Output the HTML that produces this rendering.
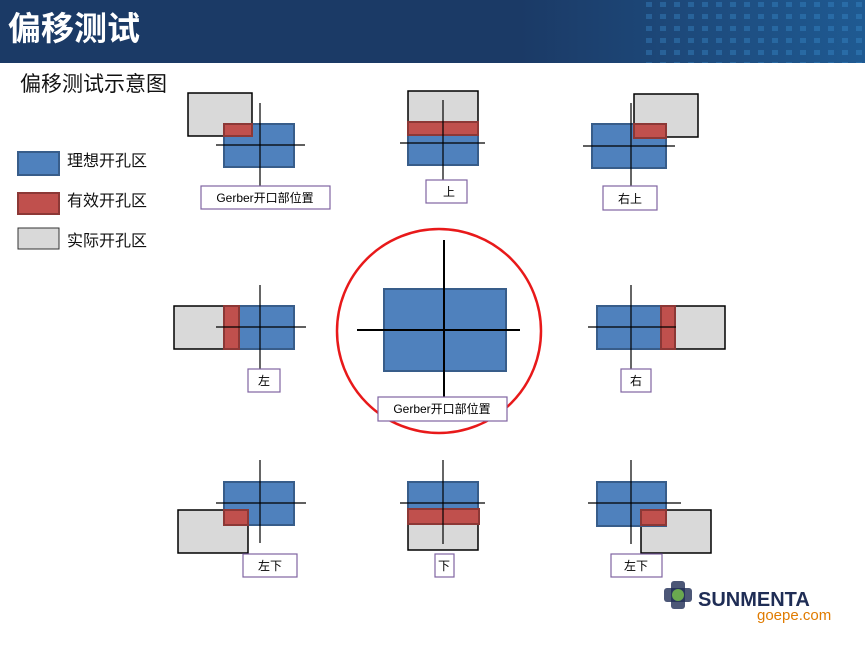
<!DOCTYPE html>
<html><head><meta charset="utf-8"><style>
body{margin:0;width:865px;height:646px;overflow:hidden;background:#fff;font-family:"Liberation Sans","Noto Sans CJK SC",sans-serif}
</style></head><body>
<svg width="865" height="646" xmlns="http://www.w3.org/2000/svg" style="position:absolute;left:0;top:0">
<defs><linearGradient id="hg" x1="0" x2="1"><stop offset="0.6" stop-color="#1b3a66"/><stop offset="1" stop-color="#1f5a92"/></linearGradient>
<pattern id="dots" width="14" height="12" patternUnits="userSpaceOnUse"><rect x="2" y="2" width="6" height="5" fill="#3a8fd0" opacity="0.6"/></pattern></defs>
<rect x="0" y="0" width="865" height="63" fill="url(#hg)"/>
<rect x="640" y="0" width="225" height="63" fill="url(#dots)" opacity="0.6"/>
<text x="8" y="40" font-size="33" font-weight="bold" fill="#fff" font-family="Liberation Sans,Noto Sans CJK SC,sans-serif">偏移测试</text>
<text x="20" y="91" font-size="21" fill="#111" font-family="Liberation Sans,Noto Sans CJK SC,sans-serif">偏移测试示意图</text>
<g font-family="Liberation Sans,Noto Sans CJK SC,sans-serif" font-size="16" fill="#111">
<rect x="18" y="152" width="41" height="23" fill="#4f81bd" stroke="#385d8a" stroke-width="2"/><text x="67" y="166">理想开孔区</text>
<rect x="18" y="193" width="41" height="21" fill="#c0504d" stroke="#8c3836" stroke-width="2"/><text x="67" y="206">有效开孔区</text>
<rect x="18" y="228" width="41" height="21" fill="#d9d9d9" stroke="#333" stroke-width="1"/><text x="67" y="246">实际开孔区</text>
</g>
<g stroke-width="1.5">
<rect x="188" y="93" width="64" height="43" fill="#d9d9d9" stroke="#000"/>
<rect x="224" y="124" width="70" height="43" fill="#4f81bd" stroke="#385d8a" stroke-width="2"/>
<rect x="224" y="124" width="28" height="12" fill="#c0504d" stroke="#8c3836" stroke-width="2"/>
<rect x="408" y="91" width="70" height="31" fill="#d9d9d9" stroke="#000"/>
<rect x="408" y="135" width="70" height="30" fill="#4f81bd" stroke="#385d8a" stroke-width="2"/>
<rect x="408" y="122" width="70" height="13" fill="#c0504d" stroke="#8c3836" stroke-width="2"/>
<rect x="634" y="94" width="64" height="43" fill="#d9d9d9" stroke="#000"/>
<rect x="592" y="124" width="74" height="44" fill="#4f81bd" stroke="#385d8a" stroke-width="2"/>
<rect x="634" y="124" width="32" height="14" fill="#c0504d" stroke="#8c3836" stroke-width="2"/>
<rect x="174" y="306" width="65" height="43" fill="#d9d9d9" stroke="#000"/>
<rect x="224" y="306" width="70" height="43" fill="#4f81bd" stroke="#385d8a" stroke-width="2"/>
<rect x="224" y="306" width="15" height="43" fill="#c0504d" stroke="#8c3836" stroke-width="2"/>
<rect x="384" y="289" width="122" height="82" fill="#4f81bd" stroke="#385d8a" stroke-width="2"/>
<rect x="661" y="306" width="64" height="43" fill="#d9d9d9" stroke="#000"/>
<rect x="597" y="306" width="78" height="43" fill="#4f81bd" stroke="#385d8a" stroke-width="2"/>
<rect x="661" y="306" width="14" height="43" fill="#c0504d" stroke="#8c3836" stroke-width="2"/>
<rect x="178" y="510" width="70" height="43" fill="#d9d9d9" stroke="#000"/>
<rect x="224" y="482" width="70" height="43" fill="#4f81bd" stroke="#385d8a" stroke-width="2"/>
<rect x="224" y="510" width="24" height="15" fill="#c0504d" stroke="#8c3836" stroke-width="2"/>
<rect x="408" y="524" width="70" height="26" fill="#d9d9d9" stroke="#000"/>
<rect x="408" y="482" width="70" height="27" fill="#4f81bd" stroke="#385d8a" stroke-width="2"/>
<rect x="408" y="509" width="71" height="15" fill="#c0504d" stroke="#8c3836" stroke-width="2"/>
<rect x="641" y="510" width="70" height="43" fill="#d9d9d9" stroke="#000"/>
<rect x="597" y="482" width="69" height="44" fill="#4f81bd" stroke="#385d8a" stroke-width="2"/>
<rect x="641" y="510" width="25" height="15" fill="#c0504d" stroke="#8c3836" stroke-width="2"/>
</g>
<g stroke="#000" stroke-width="1.2">
<line x1="260" y1="103" x2="260" y2="186"/><line x1="216" y1="145" x2="305" y2="145"/>
<line x1="443" y1="100" x2="443" y2="180"/><line x1="400" y1="143" x2="485" y2="143"/>
<line x1="631" y1="103" x2="631" y2="186"/><line x1="583" y1="146" x2="675" y2="146"/>
<line x1="260" y1="285" x2="260" y2="369"/><line x1="216" y1="327" x2="306" y2="327"/>
<line x1="631" y1="285" x2="631" y2="369"/><line x1="588" y1="327" x2="676" y2="327"/>
<line x1="260" y1="460" x2="260" y2="543"/><line x1="216" y1="503" x2="306" y2="503"/>
<line x1="443" y1="460" x2="443" y2="544"/><line x1="400" y1="503" x2="485" y2="503"/>
<line x1="631" y1="460" x2="631" y2="544"/><line x1="588" y1="503" x2="681" y2="503"/>
<line x1="444" y1="240" x2="444" y2="397" stroke-width="2"/><line x1="357" y1="330" x2="520" y2="330" stroke-width="2"/>
</g>
<circle cx="439" cy="331" r="102" fill="none" stroke="#e8191a" stroke-width="2.5"/>
<g fill="#fff" stroke="#8064a2" stroke-width="1.2">
<rect x="201" y="186" width="129" height="23"/>
<rect x="426" y="180" width="41" height="23"/>
<rect x="603" y="186" width="54" height="24"/>
<rect x="248" y="369" width="32" height="23"/>
<rect x="621" y="369" width="30" height="23"/>
<rect x="378" y="397" width="129" height="24"/>
<rect x="243" y="554" width="54" height="23"/>
<rect x="435" y="554" width="19" height="23"/>
<rect x="611" y="554" width="51" height="23"/>
</g>
<g font-family="Liberation Sans,Noto Sans CJK SC,sans-serif" font-size="12" fill="#000" text-anchor="middle">
<text x="265" y="202">Gerber开口部位置</text>
<text x="449" y="196">上</text>
<text x="630" y="203">右上</text>
<text x="264" y="385">左</text>
<text x="636" y="385">右</text>
<text x="442" y="413">Gerber开口部位置</text>
<text x="270" y="570">左下</text>
<text x="444" y="570">下</text>
<text x="636" y="570">左下</text>
</g>
<g fill="#1f2d55"><rect x="664" y="588" width="28" height="14" rx="3" opacity="0.8"/><rect x="671" y="581" width="14" height="28" rx="3" opacity="0.8"/></g>
<circle cx="678" cy="595" r="6" fill="#6aa84f"/>
<text x="698" y="606" font-family="Liberation Sans,sans-serif" font-weight="bold" font-size="20" fill="#1f2d55">SUNMENTA</text>
<text x="757" y="620" font-family="Liberation Sans,sans-serif" font-size="15" fill="#e07b00">goepe.com</text>
</svg>
</body></html>
